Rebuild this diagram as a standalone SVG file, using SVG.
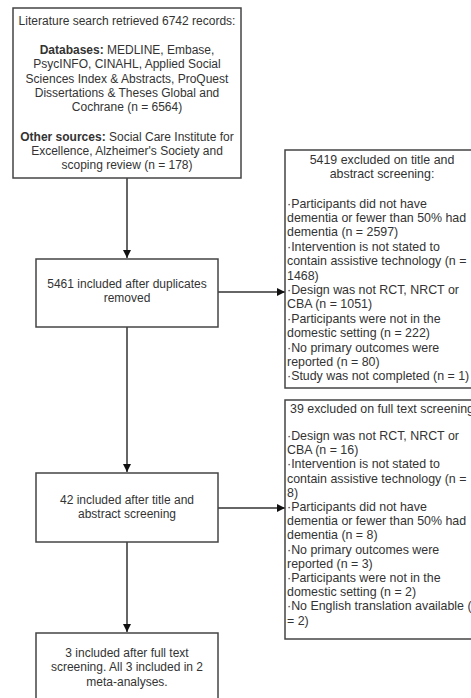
<svg xmlns="http://www.w3.org/2000/svg" width="471" height="698" viewBox="0 0 471 698">
<defs>
<marker id="arr" viewBox="0 0 10 10" refX="10" refY="5" markerWidth="8" markerHeight="8" markerUnits="userSpaceOnUse" orient="auto">
<path d="M0,0 L10,5 L0,10 Z" fill="#111"/>
</marker>
</defs>
<style>
.box{fill:#fff;stroke:#444;stroke-width:1.5}
.t{font-family:"Liberation Sans",Arial,sans-serif;font-size:12px;fill:#333}
.r{font-size:12.4px}
.c{text-anchor:middle}
.b{font-weight:bold}
.ln{stroke:#333;stroke-width:1.5;fill:none;marker-end:url(#arr)}
</style>
<rect width="471" height="698" fill="#fff"/>
<g id="connectors">
<path class="ln" d="M127,178 V258"/>
<path class="ln" d="M218,292 H285"/>
<path class="ln" d="M127,327 V472"/>
<path class="ln" d="M218,508 H285"/>
<path class="ln" d="M127,542 V632"/>
</g>
<g id="search">
<rect class="box" x="13" y="8" width="228" height="170"/>
<text class="t c" x="127" y="24.5">Literature search retrieved 6742 records:</text>
<text class="t c" x="127" y="54"><tspan class="b">Databases:</tspan> MEDLINE, Embase,</text>
<text class="t c" x="127" y="68.3">PsycINFO, CINAHL, Applied Social</text>
<text class="t c" x="127" y="82.6">Sciences Index &amp; Abstracts, ProQuest</text>
<text class="t c" x="127" y="96.9">Dissertations &amp; Theses Global and</text>
<text class="t c" x="127" y="111.2">Cochrane (n = 6564)</text>
<text class="t c" x="127" y="140.5"><tspan class="b">Other sources:</tspan> Social Care Institute for</text>
<text class="t c" x="127" y="154.8">Excellence, Alzheimer's Society and</text>
<text class="t c" x="127" y="169.1">scoping review (n = 178)</text>
</g>
<g id="dedup">
<rect class="box" x="36" y="259" width="182" height="68"/>
<text class="t c" x="127" y="287.5">5461 included after duplicates</text>
<text class="t c" x="127" y="302">removed</text>
</g>
<g id="excl1">
<rect class="box" x="285" y="150" width="194" height="238"/>
<text class="t r c" x="382" y="163.5">5419 excluded on title and</text>
<text class="t r c" x="382" y="177.8">abstract screening:</text>
<text class="t r" x="287" y="207.5">·Participants did not have</text>
<text class="t r" x="287" y="221.9">dementia or fewer than 50% had</text>
<text class="t r" x="287" y="236.3">dementia (n = 2597)</text>
<text class="t r" x="287" y="250.7">·Intervention is not stated to</text>
<text class="t r" x="287" y="265.1">contain assistive technology (n =</text>
<text class="t r" x="287" y="279.5">1468)</text>
<text class="t r" x="287" y="293.9">·Design was not RCT, NRCT or</text>
<text class="t r" x="287" y="308.3">CBA (n = 1051)</text>
<text class="t r" x="287" y="322.7">·Participants were not in the</text>
<text class="t r" x="287" y="337.1">domestic setting (n = 222)</text>
<text class="t r" x="287" y="351.5">·No primary outcomes were</text>
<text class="t r" x="287" y="365.9">reported (n = 80)</text>
<text class="t r" x="287" y="380.3">·Study was not completed (n = 1)</text>
</g>
<g id="title-abstract">
<rect class="box" x="36" y="473" width="182" height="69"/>
<text class="t c" x="127" y="503.5">42 included after title and</text>
<text class="t c" x="127" y="518">abstract screening</text>
</g>
<g id="excl2">
<rect class="box" x="285" y="400" width="194" height="239"/>
<text class="t r c" x="382" y="413">39 excluded on full text screening</text>
<text class="t r" x="287" y="440">·Design was not RCT, NRCT or</text>
<text class="t r" x="287" y="454.2">CBA (n = 16)</text>
<text class="t r" x="287" y="468.4">·Intervention is not stated to</text>
<text class="t r" x="287" y="482.6">contain assistive technology (n =</text>
<text class="t r" x="287" y="496.8">8)</text>
<text class="t r" x="287" y="511">·Participants did not have</text>
<text class="t r" x="287" y="525.2">dementia or fewer than 50% had</text>
<text class="t r" x="287" y="539.4">dementia (n = 8)</text>
<text class="t r" x="287" y="553.6">·No primary outcomes were</text>
<text class="t r" x="287" y="567.8">reported (n = 3)</text>
<text class="t r" x="287" y="582">·Participants were not in the</text>
<text class="t r" x="287" y="596.2">domestic setting (n = 2)</text>
<text class="t r" x="287" y="610.4">·No English translation available (n</text>
<text class="t r" x="287" y="624.6">= 2)</text>
</g>
<g id="included">
<rect class="box" x="36" y="633" width="182" height="80"/>
<text class="t c" x="127" y="656.5">3 included after full text</text>
<text class="t c" x="127" y="671">screening. All 3 included in 2</text>
<text class="t c" x="127" y="685.5">meta-analyses.</text>
</g>
</svg>
